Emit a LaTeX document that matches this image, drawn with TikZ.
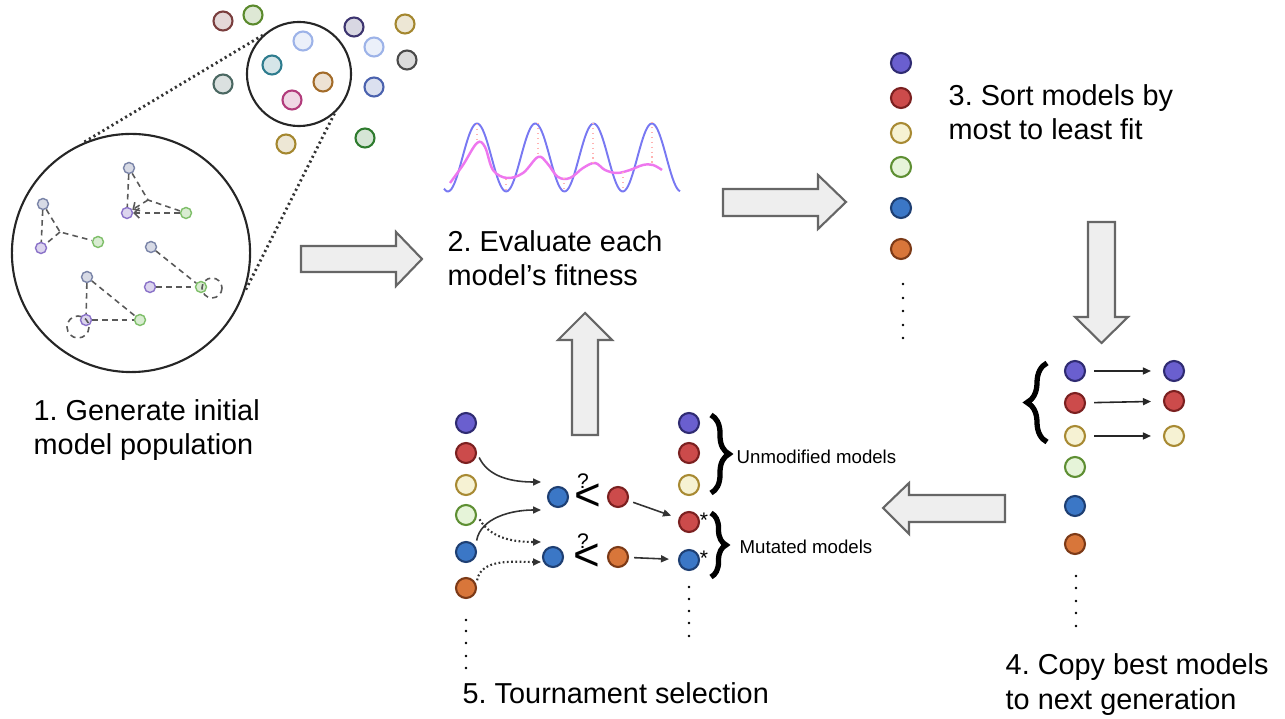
\documentclass[tikz,border=0pt]{standalone}
\usepackage{fontspec}
\setmainfont{Liberation Sans}
\usetikzlibrary{arrows.meta, decorations.pathreplacing}
% model colours
\definecolor{purplefill}{HTML}{6A5FCF}
\definecolor{purpleline}{HTML}{2F2B72}
\definecolor{redfill}{HTML}{CC4B4B}
\definecolor{redline}{HTML}{7B2020}
\definecolor{creamfill}{HTML}{F6F2D3}
\definecolor{creamline}{HTML}{A88A33}
\definecolor{greenfill}{HTML}{E6F4D9}
\definecolor{greenline}{HTML}{5E8F33}
\definecolor{bluefill}{HTML}{3B77C6}
\definecolor{blueline}{HTML}{1E3F73}
\definecolor{orangefill}{HTML}{D8763A}
\definecolor{orangeline}{HTML}{7C3A17}
% population colours
\definecolor{poprose}{HTML}{7A3E3E}
\definecolor{poplime}{HTML}{5B8A2D}
\definecolor{popviolet}{HTML}{3D3570}
\definecolor{popgold}{HTML}{A4872F}
\definecolor{popsky}{HTML}{9DB3E8}
\definecolor{popgray}{HTML}{4A4A4A}
\definecolor{popsage}{HTML}{4B6862}
\definecolor{popnavy}{HTML}{4B62AE}
\definecolor{popforest}{HTML}{2E7B2E}
\definecolor{popteal}{HTML}{2E7C8E}
\definecolor{popamber}{HTML}{A36C2A}
\definecolor{poppink}{HTML}{B23C7C}
\definecolor{netgray}{HTML}{7A84A8}
\definecolor{netpurple}{HTML}{8A72C8}
\definecolor{netgreen}{HTML}{7FBF6A}
\definecolor{arrowgray}{HTML}{666666}
\definecolor{arrowfill}{HTML}{EEEEEE}
\definecolor{inkgray}{HTML}{333333}
\definecolor{wavefit}{HTML}{EE77EE}
\definecolor{wavedata}{HTML}{7878F2}

\begin{document}
\frenchspacing
\begin{tikzpicture}[
    x=0.01cm, y=-0.01cm,
    >={Triangle[length=0.8mm, width=0.7mm]},
    % --- text styles ---
    steplabel/.style={anchor=base west, align=left, inner sep=0,
        font=\fontsize{8.2}{9.7}\selectfont},
    smalllabel/.style={anchor=west, inner sep=0, font=\fontsize{5.3}{6}\selectfont},
    compare/.style={inner sep=0, font=\fontsize{13}{13}\selectfont},
    smallmark/.style={inner sep=0, font=\fontsize{6}{6}\selectfont},
    % --- model styles ---
    model/.style={circle, minimum size=0.2cm, inner sep=0, line width=0.6pt},
    modpurple/.style={model, draw=purpleline, fill=purplefill},
    modred/.style={model, draw=redline, fill=redfill},
    modcream/.style={model, draw=creamline, fill=creamfill},
    modgreen/.style={model, draw=greenline, fill=greenfill},
    modblue/.style={model, draw=blueline, fill=bluefill},
    modorange/.style={model, draw=orangeline, fill=orangefill},
    blob/.style={circle, minimum size=0.19cm, inner sep=0, line width=0.6pt,
        draw=#1, fill=#1!20},
    netnode/.style={circle, minimum size=0.11cm, inner sep=0, line width=0.4pt,
        draw=#1, fill=#1!30},
    zoomcirc/.style={circle, draw=black!85, line width=0.6pt, inner sep=0},
    % --- line styles ---
    zoomline/.style={draw=black!80, line width=0.8pt, dash pattern=on 0.6pt off 0.9pt},
    netline/.style={draw=black!65, line width=0.45pt, dash pattern=on 1.6pt off 1.2pt},
    blockarrow/.style={draw=arrowgray, fill=arrowfill, line width=0.6pt},
    tarrow/.style={->, draw=inkgray, line width=0.45pt},
    tdotted/.style={tarrow, dash pattern=on 0.5pt off 0.7pt, line width=0.6pt},
    copyarrow/.style={->, draw=black!85, line width=0.45pt},
    bigbrace/.style={decorate, line width=1.5pt,
        decoration={brace, amplitude=#1}},
    dotcol/.style={fill=black},
]
\useasboundingbox (0,0) rectangle (1285,719);

% ===== 1. INITIAL POPULATION =====
\node[zoomcirc, minimum size=1.04cm] (popzoom) at (299,74) {};
\node[zoomcirc, minimum size=2.38cm] (popbig) at (131,253) {};
\draw[zoomline] (popzoom.133) -- (popbig.114);
\draw[zoomline] (popzoom.-48) -- (popbig.-19);

\node[blob=poprose] (p1) at (223,21) {};
\node[blob=poplime] (p2) at (253,15) {};
\node[blob=popviolet] (p3) at (354,27) {};
\node[blob=popgold] (p4) at (405,24) {};
\node[blob=popsky] (p5) at (374,47) {};
\node[blob=popgray] (p6) at (407,60) {};
\node[blob=popsage] (p7) at (223,84) {};
\node[blob=popnavy] (p8) at (374,87) {};
\node[blob=popgold] (p9) at (286,144) {};
\node[blob=popforest] (p10) at (365,138) {};
\node[blob=popsky] (p11) at (303,41) {};
\node[blob=popteal] (p12) at (272,65) {};
\node[blob=popamber] (p13) at (323,82) {};
\node[blob=poppink] (p14) at (292,100) {};

% networks inside the zoomed model
\node[netnode=netgray] (na1) at (129,168) {};
\node[netnode=netpurple] (na2) at (127,213) {};
\node[netnode=netgreen] (na3) at (186,213) {};
\coordinate (na0) at (148,200);
\draw[netline] (na1) -- (na2);
\draw[netline] (na1) -- (na0) -- (na3);
\draw[netline, -{Straight Barb[length=0.5mm]}] (na0) -- (na2);
\draw[netline, -{Straight Barb[length=0.5mm]}] (na3) -- (na2);

\node[netnode=netgray] (nb1) at (43,204) {};
\node[netnode=netpurple] (nb2) at (41,248) {};
\node[netnode=netgreen] (nb3) at (98,242) {};
\coordinate (nb0) at (60,232);
\draw[netline] (nb1) -- (nb2);
\draw[netline] (nb1) -- (nb0) -- (nb3);
\draw[netline] (nb0) -- (nb2);

\node[netnode=netgray] (nc1) at (151,247) {};
\node[netnode=netpurple] (nc2) at (150,287) {};
\node[netnode=netgreen] (nc3) at (201,287) {};
\draw[netline] (nc1) -- (nc3);
\draw[netline] (nc2) -- (nc3);
\draw[netline] (212,288) circle (10);

\node[netnode=netgray] (nd1) at (87,277) {};
\node[netnode=netpurple] (nd2) at (86,320) {};
\node[netnode=netgreen] (nd3) at (140,320) {};
\draw[netline] (nd1) -- (nd2);
\draw[netline] (nd1) -- (nd3);
\draw[netline] (nd2) -- (nd3);
\draw[netline] (78,327) circle (11);

% (multi-line labels sit on the baseline of their last line)
\node[steplabel] (step1) at (33,455) {1. Generate initial\\model population};

% ===== 2. FITNESS =====
\draw[draw=wavedata, line width=0.55pt]
    plot[domain=444:680, samples=160] (\x, {157.5-34*cos((\x-477)*6.175)});
\draw[draw=wavefit, line width=0.7pt] plot[smooth, tension=0.6] coordinates {
    (450,183) (463,165) (477,143) (485,147) (493,170) (507,178) (523,173)
    (538,157) (547,163) (558,177) (570,178) (583,168) (595,163) (605,170)
    (617,173) (630,170) (643,165) (653,165) (662,170)};
\draw[red!30, densely dotted, line width=0.4pt]
    (477,124) -- (477,143) (506,179) -- (506,191) (538,123) -- (538,157)
    (564,178) -- (564,192) (593,123) -- (593,163) (623,172) -- (623,191)
    (652,122) -- (652,165);

\node[steplabel] (step2) at (447,286) {2. Evaluate each\\model’s fitness};

% ===== 3. SORT =====
\node[modpurple] (s1) at (901,63) {};
\node[modred] (s2) at (901,98) {};
\node[modcream] (s3) at (901,133) {};
\node[modgreen] (s4) at (901,167) {};
\node[modblue] (s5) at (901,208) {};
\node[modorange] (s6) at (901,249) {};
\fill[dotcol] (903,284) circle (1.4) (903,298) circle (1.4) (903,311) circle (1.4)
    (903,325) circle (1.4) (903,338) circle (1.4);

\node[steplabel] (step3) at (948,140) {3. Sort models by\\most to least fit};

% ===== 4. COPY BEST =====
\node[modpurple] (c1) at (1075,371) {};
\node[modred] (c2) at (1075,403) {};
\node[modcream] (c3) at (1075,436) {};
\node[modgreen] (c4) at (1075,467) {};
\node[modblue] (c5) at (1075,506) {};
\node[modorange] (c6) at (1075,544) {};
\fill[dotcol] (1076,576) circle (1.4) (1076,588) circle (1.4) (1076,601) circle (1.4)
    (1076,613) circle (1.4) (1076,626) circle (1.4);

\node[modpurple] (d1) at (1174,371) {};
\node[modred] (d2) at (1174,401) {};
\node[modcream] (d3) at (1174,436) {};
\draw[copyarrow, shorten <=0.08cm, shorten >=0.12cm] (c1) -- (d1);
\draw[copyarrow, shorten <=0.08cm, shorten >=0.12cm] (c2) -- (d2);
\draw[copyarrow, shorten <=0.08cm, shorten >=0.12cm] (c3) -- (d3);
\draw[bigbrace=0.2cm] (1047,442) -- (1047,363);

\node[steplabel] (step4) at (1005,709) {4. Copy best models\\to next generation};

% ===== 5. TOURNAMENT =====
\node[modpurple] (t1) at (466,423) {};
\node[modred] (t2) at (466,453) {};
\node[modcream] (t3) at (466,485) {};
\node[modgreen] (t4) at (466,515) {};
\node[modblue] (t5) at (466,552) {};
\node[modorange] (t6) at (466,588) {};
\fill[dotcol] (466,620) circle (1.4) (466,631) circle (1.4) (466,643) circle (1.4)
    (466,656) circle (1.4) (466,668) circle (1.4);

% tournament pairs
\node[modblue] (ca1) at (558,497) {};
\node[modred] (cb1) at (618,497) {};
\node[compare] (lt1) at (588,497) {<};
\node[smallmark] (q1) at (583,481) {?};
\node[modblue] (ca2) at (553,557) {};
\node[modorange] (cb2) at (618,557) {};
\node[compare] (lt2) at (587,557) {<};
\node[smallmark] (q2) at (583,541) {?};

\coordinate (inA1) at (541,482);
\coordinate (inA2) at (541,510);
\coordinate (inB1) at (541,542);
\coordinate (inB2) at (541,562);
\draw[tarrow, shorten <=0.05cm] (t2.east) to[out=-65, in=180] (inA1);
\draw[tarrow, shorten <=0.06cm] (t5.30) to[out=80, in=180] (inA2);
\draw[tdotted, shorten <=0.05cm] (t4.east) to[out=-60, in=180] (inB1);
\draw[tdotted, shorten <=0.04cm] (t6.20) to[out=80, in=180] (inB2);

% next generation
\node[modpurple] (r1) at (689,423) {};
\node[modred] (r2) at (689,453) {};
\node[modcream] (r3) at (689,485) {};
\node[modred] (r4) at (689,522) {};
\node[modblue] (r5) at (689,560) {};
\fill[dotcol] (689,587) circle (1.4) (689,599) circle (1.4) (689,611) circle (1.4)
    (689,623) circle (1.4) (689,636) circle (1.4);
\node[smallmark] (st1) at (704,520) {*};
\node[smallmark] (st2) at (704,558) {*};

\draw[tarrow, shorten <=0.05cm, shorten >=0.08cm] (cb1) -- (r4);
\draw[tarrow, shorten <=0.05cm, shorten >=0.09cm] (cb2) -- (r5);

\draw[bigbrace=0.18cm] (711,415) -- (711,493);
\draw[bigbrace=0.15cm] (711,513) -- (711,577);
\node[smalllabel] (unmod) at (736,457) {Unmodified models};
\node[smalllabel] (mutated) at (739,547) {Mutated models};

\node[steplabel] (step5) at (462,703) {5. Tournament selection};

% ===== BLOCK ARROWS =====
\draw[blockarrow] (301,246) -- (396,246) -- (396,232) -- (422,259) -- (396,286)
    -- (396,272) -- (301,272) -- cycle;
\draw[blockarrow] (723,189) -- (818,189) -- (818,175) -- (846,202) -- (818,229)
    -- (818,216) -- (723,216) -- cycle;
\draw[blockarrow] (1088,222) -- (1115,222) -- (1115,317) -- (1128,317) -- (1101.5,343)
    -- (1075,317) -- (1088,317) -- cycle;
\draw[blockarrow] (1005,495) -- (1005,522) -- (909,522) -- (909,534) -- (883,508)
    -- (909,483) -- (909,495) -- cycle;
\draw[blockarrow] (572,435) -- (598,435) -- (598,340) -- (612,340) -- (585,313)
    -- (558,340) -- (572,340) -- cycle;

\end{tikzpicture}
\end{document}
